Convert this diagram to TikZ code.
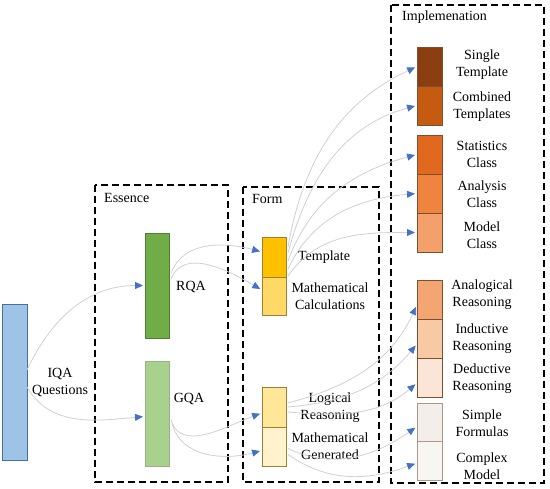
\documentclass[tikz,border=0pt]{standalone}
\usepackage{fontspec}
\setmainfont{Liberation Serif}
\usetikzlibrary{arrows.meta}
\definecolor{cblue}{HTML}{9DC3E6}
\definecolor{cblueD}{HTML}{41719C}
\definecolor{cgreen}{HTML}{70AD47}
\definecolor{cgreenD}{HTML}{507E32}
\definecolor{cgreenL}{HTML}{A9D18E}
\definecolor{cy1}{HTML}{FFC000}
\definecolor{cy2}{HTML}{FFD966}
\definecolor{cy3}{HTML}{FFE699}
\definecolor{cy4}{HTML}{FFF2CC}
\definecolor{cyD}{HTML}{A08030}
\definecolor{co1}{HTML}{8B3E0F}
\definecolor{co2}{HTML}{C55A11}
\definecolor{co3}{HTML}{E0691F}
\definecolor{co4}{HTML}{EE843E}
\definecolor{co5}{HTML}{F4A06A}
\definecolor{co6}{HTML}{F3A572}
\definecolor{co7}{HTML}{F8C9A5}
\definecolor{co8}{HTML}{FBE5D6}
\definecolor{co9}{HTML}{F4EEEA}
\definecolor{co10}{HTML}{F8F6F3}
\definecolor{coD}{HTML}{7A5030}
\definecolor{linegray}{HTML}{D0D0D0}
\definecolor{arrowblue}{HTML}{4472C4}
\begin{document}
\begin{tikzpicture}[x=1pt,y=-1pt,
  txt/.style={font=\fontsize{14}{17}\selectfont, align=center, inner sep=0pt},
  bar/.style={draw, line width=0.7pt, minimum width=24pt, inner sep=0pt, outer sep=0pt},
  frame/.style={draw=black, line width=1.6pt, dash pattern=on 7pt off 4pt},
  conn/.style={draw=linegray, line width=0.8pt, -{Triangle[length=8pt,width=7pt,color=arrowblue]}, shorten >=2pt}]
\useasboundingbox (0,0) rectangle (550,489);
% frames
\draw[frame] (95,185) rectangle (228,482);
\draw[frame] (243,187) rectangle (379,482);
\draw[frame] (391,5) rectangle (544,483);
\node[txt, anchor=west] (lessence) at (104,198) {Essence};
\node[txt, anchor=west] (lform) at (252,199) {Form};
\node[txt, anchor=west] (limpl) at (402,17) {Implemenation};
% left
\node[bar, fill=cblue, draw=cblueD, minimum width=25pt, minimum height=156pt] (iqa) at (14.5,382) {};
\node[txt] (liqa) at (60,383) {IQA\\Questions};
% essence
\node[bar, fill=cgreen, draw=cgreenD, minimum height=105pt] (rqa) at (157,285.5) {};
\node[bar, fill=cgreenL, draw=cgreenD!60, minimum height=105pt] (gqa) at (157,413.5) {};
\node[txt] (lrqa) at (191,287) {RQA};
\node[txt] (lgqa) at (189,399) {GQA};
% form
\node[bar, fill=cy1, draw=cyD, minimum height=40pt] (tmpl) at (274,257) {};
\node[bar, fill=cy2, draw=cyD, minimum height=38pt] (mcalc) at (274,296) {};
\node[bar, fill=cy3, draw=cyD, minimum height=40pt] (logic) at (274,407) {};
\node[bar, fill=cy4, draw=cyD, minimum height=39pt] (mgen) at (274,446.5) {};
\node[txt] (ltmpl) at (324,257) {Template};
\node[txt] (lmcalc) at (330,296) {Mathematical\\Calculations};
\node[txt] (llogic) at (330,408) {Logical\\Reasoning};
\node[txt] (lmgen) at (330,446) {Mathematical\\Generated};
% implementation
\node[bar, fill=co1, draw=coD, minimum width=25pt, minimum height=39pt] (single) at (429.5,66.5) {};
\node[bar, fill=co2, draw=coD, minimum width=25pt, minimum height=39pt] (comb) at (429.5,105.5) {};
\node[bar, fill=co3, draw=coD, minimum width=25pt, minimum height=39pt] (stat) at (429.5,154.5) {};
\node[bar, fill=co4, draw=coD, minimum width=25pt, minimum height=39pt] (anal) at (429.5,193.5) {};
\node[bar, fill=co5, draw=coD, minimum width=25pt, minimum height=39pt] (model) at (429.5,232.5) {};
\node[bar, fill=co6, draw=coD, minimum width=25pt, minimum height=39pt] (analog) at (429.5,300) {};
\node[bar, fill=co7, draw=coD, minimum width=25pt, minimum height=39pt] (induct) at (429.5,339) {};
\node[bar, fill=co8, draw=coD, minimum width=25pt, minimum height=39pt] (deduct) at (429.5,378) {};
\node[bar, fill=co9, draw=coD!60, minimum width=25pt, minimum height=39pt] (simple) at (429.5,422.5) {};
\node[bar, fill=co10, draw=coD!60, minimum width=25pt, minimum height=39pt] (complex) at (429.5,461) {};
\node[txt] (lsingle) at (482,65) {Single\\Template};
\node[txt] (lcomb) at (482,106.5) {Combined\\Templates};
\node[txt] (lstat) at (482,154.5) {Statistics\\Class};
\node[txt] (lanal) at (482,194.5) {Analysis\\Class};
\node[txt] (lmodel) at (482,235) {Model\\Class};
\node[txt] (lanalog) at (482,294.5) {Analogical\\Reasoning};
\node[txt] (linduct) at (482,338.5) {Inductive\\Reasoning};
\node[txt] (ldeduct) at (482,378.5) {Deductive\\Reasoning};
\node[txt] (lsimple) at (482,423) {Simple\\Formulas};
\node[txt] (lcomplex) at (482,466.5) {Complex\\Model};
% connectors
\draw[conn] ([yshift=12pt]iqa.east) to[out=65,in=180] (rqa.west);
\draw[conn] ([yshift=-5pt]iqa.east) to[out=-60,in=185] ([yshift=-3pt]gqa.west);
\draw[conn] ([xshift=2pt,yshift=12pt]rqa.east) to[out=70,in=165] ([yshift=5pt]tmpl.west);
\draw[conn] ([xshift=2pt,yshift=6pt]rqa.east) to[out=70,in=150] ([yshift=6pt]mcalc.west);
\draw[conn] ([xshift=2pt,yshift=-6pt]gqa.east) to[out=-75,in=200] ([yshift=-6pt]logic.west);
\draw[conn] ([xshift=3pt,yshift=-10pt]gqa.east) to[out=-75,in=195] ([yshift=-4pt]mgen.west);
\draw[conn] ([xshift=2pt,yshift=10pt]tmpl.east) to[out=80,in=205] (single.west);
\draw[conn] ([xshift=2pt,yshift=4pt]tmpl.east) to[out=75,in=195] (comb.west);
\draw[conn] ([xshift=2pt,yshift=-4pt]tmpl.east) to[out=70,in=195] (stat.west);
\draw[conn] ([xshift=2pt,yshift=-12pt]tmpl.east) to[out=65,in=185] (anal.west);
\draw[conn] ([xshift=2pt,yshift=-19pt]tmpl.east) to[out=55,in=180] (model.west);
\draw[conn] ([xshift=2pt,yshift=4pt]logic.east) to[out=15,in=245] ([yshift=-5pt]analog.west);
\draw[conn] ([xshift=2pt,yshift=0pt]logic.east) to[out=5,in=230] ([yshift=-5pt]induct.west);
\draw[conn] ([xshift=2pt,yshift=-5pt]logic.east) to[out=-5,in=220] ([yshift=-5pt]deduct.west);
\draw[conn] ([xshift=2pt,yshift=-2pt]mgen.east) to[out=-25,in=215] ([yshift=-4pt]simple.west);
\draw[conn] ([xshift=2pt,yshift=-8pt]mgen.east) to[out=-35,in=200] ([yshift=-2pt]complex.west);
\end{tikzpicture}
\end{document}
